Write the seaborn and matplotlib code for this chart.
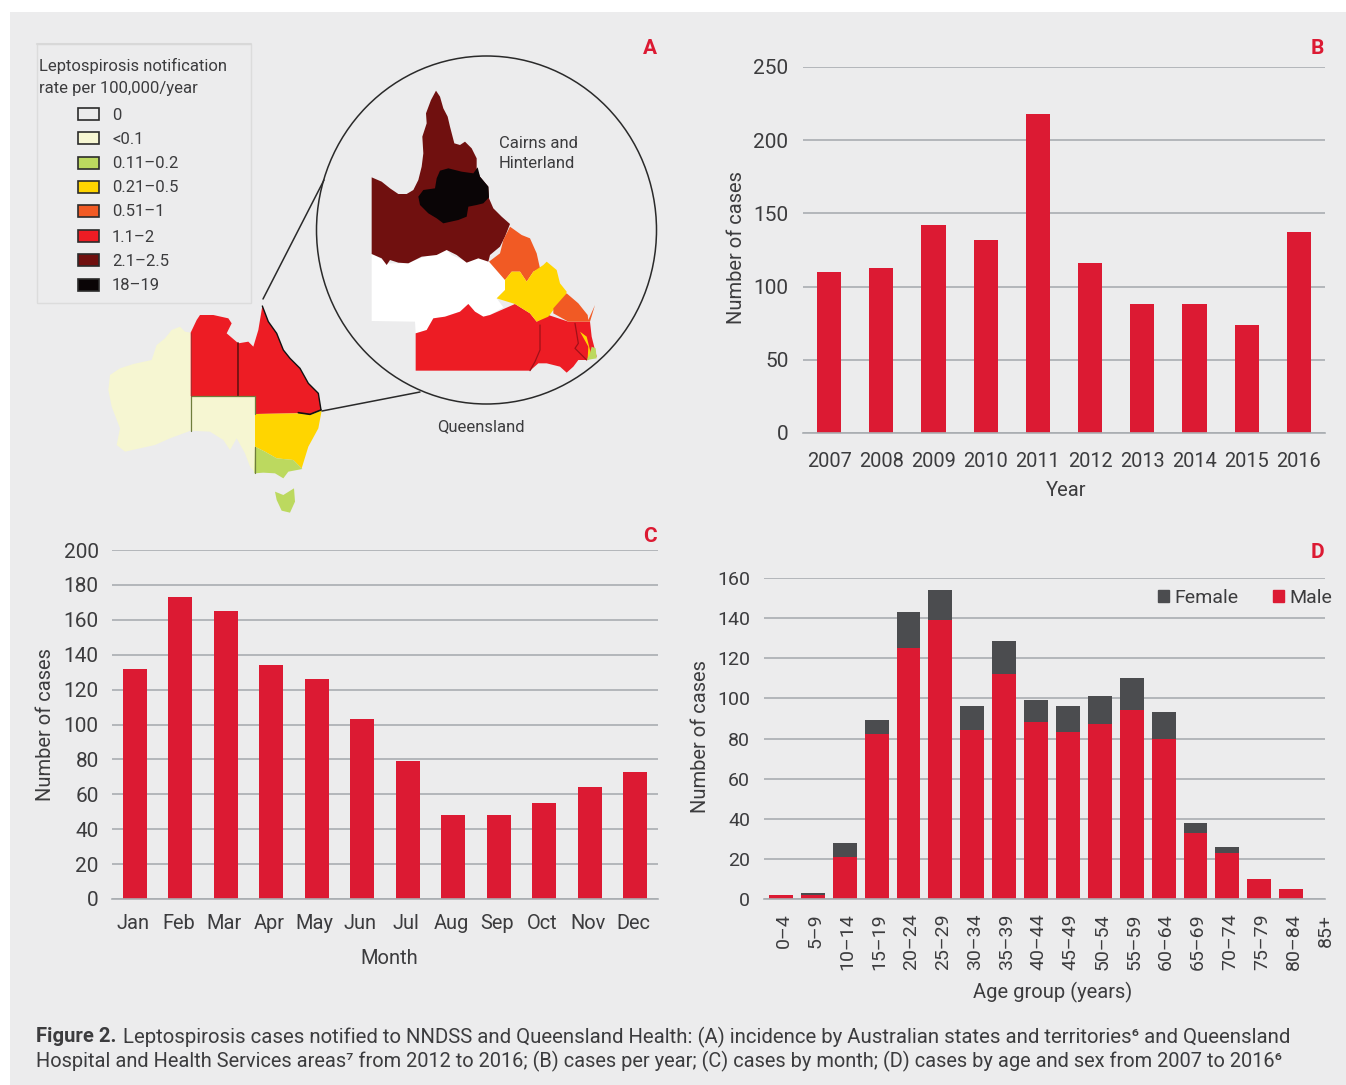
import matplotlib
matplotlib.use("Agg")
import matplotlib.pyplot as plt
from matplotlib.patches import Polygon, Ellipse, Rectangle, Patch
from matplotlib.transforms import ScaledTranslation
import seaborn as sns

# ---------- data ----------
years = ["2007", "2008", "2009", "2010", "2011", "2012", "2013", "2014", "2015", "2016"]
cases_per_year = [110, 113, 142, 132, 218, 116, 88, 88, 74, 137]

months = ["Jan", "Feb", "Mar", "Apr", "May", "Jun", "Jul", "Aug", "Sep", "Oct", "Nov", "Dec"]
cases_per_month = [132, 173, 165, 134, 126, 103, 79, 48, 48, 55, 64, 73]

age_groups = ["0–4", "5–9", "10–14", "15–19", "20–24", "25–29", "30–34", "35–39", "40–44",
              "45–49", "50–54", "55–59", "60–64", "65–69", "70–74", "75–79", "80–84", "85+"]
male_cases = [2, 2, 21, 82, 125, 139, 84, 112, 88, 83, 87, 94, 80, 33, 23, 10, 5, 0]
female_cases = [0, 1, 7, 7, 18, 15, 12, 16.5, 11, 13, 14, 16, 13, 5, 3, 0, 0, 0]

legend_labels = ["0", "<0.1", "0.11–0.2", "0.21–0.5", "0.51–1", "1.1–2", "2.1–2.5", "18–19"]
legend_colours = ["#ececec", "#f6f6d2", "#bcd95f", "#ffd500", "#f15a24", "#ed1c24", "#70100f", "#0a0506"]

# Map outlines
WA = [(272,98),(255,95),(240,80),(215,90),(195,115),(170,135),(155,180),(100,192),(60,205),(30,225),(25,270),
      (35,320),(60,385),(50,435),(75,455),(120,445),(165,435),(210,415),(272,392)]
NT = [(272,98),(290,60),(300,45),(340,45),(385,55),(395,70),(380,100),(415,130),(415,288),(272,288)]
QLD = [(415,130),(445,125),(460,140),(475,90),(487,18),(505,65),(530,100),(550,150),(570,175),(600,205),(625,250),
       (655,280),(663,330),(630,345),(595,340),(465,342),(465,288),(415,288)]
SA = [(272,288),(465,288),(465,518),(450,500),(435,460),(410,415),(390,450),(370,420),(330,395),(272,392)]
NSW = [(465,342),(595,340),(630,345),(665,332),(655,385),(625,440),(605,505),(580,480),(530,475),(495,455),(465,440)]
VIC = [(465,440),(495,455),(530,475),(580,480),(607,507),(565,515),(550,535),(525,520),(490,518),(463,520)]
TAS = [(525,575),(550,585),(582,565),(585,605),(570,638),(545,632),(530,600)]
QLD_COAST = [(487,18),(505,65),(530,100),(550,150),(570,175),(600,205),(625,250),(655,280),(663,330)]
QLD_SOUTH = [(595,338),(630,343),(663,330)]

Q_DARK = [(20,292),(50,305),(75,325),(100,342),(125,342),(145,330),(160,300),(170,260),(175,220),(172,170),(185,130),
          (183,100),(198,60),(213,32),(225,50),(235,85),(248,110),(255,140),(268,190),(285,195),(300,185),(320,205),
          (335,235),(335,265),(345,290),(370,320),(372,355),(385,385),(410,410),(435,432),(420,470),(405,500),(375,525),
          (370,545),(340,535),(305,548),(275,525),(245,510),(215,525),(170,530),(130,550),(100,548),(75,540),(65,555),
          (50,535),(20,522)]
Q_BLACK = [(225,272),(250,265),(290,275),(325,280),(338,262),(345,290),(370,320),(372,352),(355,370),(335,375),(310,380),
           (305,410),(280,420),(235,430),(215,415),(190,400),(165,375),(160,350),(175,330),(210,325),(215,295)]
Q_ORANGE_N = [(435,20),(470,45),(495,55),(515,100),(525,145),(505,155),(485,185),(465,155),(440,155),(420,180),(372,125),
              (405,100),(415,60)]
Q_WHITE = [(20,100),(45,115),(70,130),(125,130),(165,115),(210,100),(245,90),(260,105),(305,125),(345,105),(372,125),
           (420,180),(420,210),(395,235),(415,262),(375,285),(355,290),(330,275),(310,252),(285,275),(240,290),(205,295),
           (185,330),(152,340),(150,305),(20,303)]
Q_YELLOW = [(420,180),(440,155),(465,155),(485,185),(505,155),(535,135),(545,125),(575,150),(585,190),(605,215),(600,240),
            (565,270),(550,290),(515,305),(495,280),(450,252),(395,235),(420,210)]
Q_ORANGE_S = [(605,220),(640,250),(668,285),(670,300),(690,255),(675,305),(610,305),(565,280),(565,265)]
Q_RED = [(152,340),(185,330),(205,295),(240,290),(285,275),(310,252),(330,275),(355,290),(375,285),(450,252),(495,280),
         (515,305),(550,285),(610,305),(675,305),(680,350),(695,410),(665,420),(640,420),(625,440),(605,458),(585,440),
         (545,430),(520,430),(495,452),(152,452)]
Q_SE_YELLOW = [(645,335),(665,350),(680,410),(668,415),(670,380)]
Q_SE_GREEN = [(680,380),(692,385),(695,415),(665,420),(675,400)]
Q_LINE_1 = [(525,315),(525,390),(510,425),(495,452)]
Q_LINE_2 = [(630,310),(640,370),(630,385),(665,420)]

# ---------- style ----------
W, H = 1346, 1085
RED = "#dc1a33"
DARK = "#4b4c4f"
GRID = "#a9adb1"
TEXT = "#3c3c3e"
BG = "#ececed"

sns.set_theme(style="white")
plt.rcParams["font.family"] = ["Roboto", "DejaVu Sans"]
plt.rcParams["text.color"] = TEXT
plt.rcParams["axes.labelcolor"] = TEXT

fig = plt.figure(figsize=(W / 100, H / 100), dpi=100, facecolor="white")
fig.patches.append(Rectangle((10 / W, 0), (W - 10) / W, (H - 12) / H, transform=fig.transFigure,
                             facecolor=BG, edgecolor="none", zorder=-10))

ov = fig.add_axes([0, 0, 1, 1], zorder=5)
ov.set_xlim(0, W)
ov.set_ylim(H, 0)
ov.axis("off")
ov.patch.set_alpha(0)


def make_axes(left, right, top, bottom, size=15):
    ax = fig.add_axes([left / W, 1 - bottom / H, (right - left) / W, (bottom - top) / H])
    ax.patch.set_alpha(0)
    ax.set_axisbelow(True)
    ax.grid(axis="y", color=GRID, lw=1.2)
    ax.grid(axis="x", visible=False)
    for s in ["top", "left", "right"]:
        ax.spines[s].set_visible(False)
    ax.spines["bottom"].set_color(GRID)
    ax.spines["bottom"].set_linewidth(1.2)
    ax.tick_params(axis="both", length=0, labelsize=size, labelcolor=TEXT)
    return ax


def finish(ax, xlabel, xpos, ylabel, ypos):
    ax.set_xlabel(xlabel, fontsize=14.5, va="center")
    ax.set_ylabel(ylabel, fontsize=14.5, va="center")
    ax.xaxis.set_label_coords(*xpos, transform=ov.transData)
    ax.yaxis.set_label_coords(*ypos, transform=ov.transData)


flat = dict(saturation=1, edgecolor="none", linewidth=0)

# ---------- panel B ----------
axB = make_axes(803, 1325, 67, 433)
sns.barplot(x=years, y=cases_per_year, color=RED, width=0.46, ax=axB, **flat)
axB.set_xlim(-0.5, 9.5)
axB.set_ylim(0, 250)
axB.set_yticks(range(0, 251, 50))
axB.tick_params(axis="x", pad=14, labelsize=14.4)
axB.tick_params(axis="y", pad=10.5)
finish(axB, "Year", (1066, 491), "Number of cases", (736, 248))

# ---------- panel C ----------
axC = make_axes(112, 658, 550, 899)
sns.barplot(x=months, y=cases_per_month, color=RED, width=0.53, ax=axC, **flat)
axC.set_xlim(-0.5, 11.5)
axC.set_ylim(0, 200)
axC.set_yticks(range(0, 201, 20))
axC.tick_params(axis="x", pad=11, labelsize=14.4)
axC.tick_params(axis="y", pad=9.5)
shift_c = ScaledTranslation(-2 / 100, 0, fig.dpi_scale_trans)
for lab in axC.get_xticklabels():
    lab.set_transform(lab.get_transform() + shift_c)
finish(axC, "Month", (389, 959), "Number of cases", (46, 725))

# ---------- panel D ----------
axD = make_axes(764, 1325, 578, 899, size=14)
sns.barplot(x=age_groups, y=male_cases, color=RED, width=0.75, ax=axD, **flat)
sns.barplot(x=age_groups, y=female_cases, bottom=male_cases, color=DARK, width=0.75, ax=axD, **flat)
axD.set_xlim(-0.53, 17.06)
axD.set_ylim(0, 160)
axD.set_yticks(range(0, 161, 20))
axD.tick_params(axis="x", pad=10.5, labelrotation=90)
axD.tick_params(axis="y", pad=10)
shift = ScaledTranslation(2.5 / 100, 0, fig.dpi_scale_trans)
for lab in axD.get_xticklabels():
    lab.set_clip_on(False)
    lab.set_transform(lab.get_transform() + shift)
finish(axD, "Age group (years)", (1053, 992), "Number of cases", (700, 737))
axD.legend(handles=[Patch(color=DARK), Patch(color=RED)], labels=["Female", "Male"], ncol=2, frameon=False,
           loc="center left", bbox_to_anchor=(1158, 598), bbox_transform=ov.transData,
           borderpad=0, borderaxespad=0, handlelength=0.55, handleheight=0.55, handletextpad=0.3,
           columnspacing=1.78, fontsize=14)

# ---------- panel A: map ----------
def z_au(pts):
    return [(100 + x / 3, 300 + y / 3) for x, y in pts]


def z_n(pts):
    return [(365 + x / 3, 80 + y / 3) for x, y in pts]


def z_s(pts):
    return [(365 + x / 3, 220 + y / 3) for x, y in pts]


for pts, col in [(WA, legend_colours[1]), (SA, legend_colours[1]), (NT, legend_colours[5]), (QLD, legend_colours[5]),
                 (NSW, legend_colours[3]), (VIC, legend_colours[2]), (TAS, legend_colours[2])]:
    ov.add_patch(Polygon(z_au(pts), closed=True, facecolor=col, edgecolor="none"))
for a, b, col, lw in [((415, 130), (415, 288), "#70100f", 1.3), ((272, 288), (465, 288), "#6f7d3c", 0.9),
                      ((465, 288), (465, 342), "#6f7d3c", 0.9), ((272, 288), (272, 392), "#6f7d3c", 0.9),
                      ((272, 98), (272, 288), "#a03030", 0.6), ((465, 440), (465, 518), "#6f7d3c", 0.9)]:
    ov.plot(*zip(*z_au([a, b])), color=col, lw=lw)
ov.plot(*zip(*z_au(QLD_COAST)), color="#111111", lw=1.0)
ov.plot(*zip(*z_au(QLD_SOUTH)), color="#111111", lw=1.2)

ov.add_patch(Polygon(z_s(Q_WHITE), closed=True, facecolor="white", edgecolor="none"))
ov.add_patch(Polygon(z_n(Q_DARK), closed=True, facecolor=legend_colours[6], edgecolor="none"))
ov.add_patch(Polygon(z_n(Q_BLACK), closed=True, facecolor=legend_colours[7], edgecolor="none"))
for pts, col in [(Q_ORANGE_N, legend_colours[4]), (Q_RED, legend_colours[5]), (Q_YELLOW, legend_colours[3]),
                 (Q_ORANGE_S, legend_colours[4]), (Q_SE_YELLOW, legend_colours[3]), (Q_SE_GREEN, legend_colours[2])]:
    ov.add_patch(Polygon(z_s(pts), closed=True, facecolor=col, edgecolor="none"))
ov.plot(*zip(*z_s(Q_LINE_1)), color="#a01018", lw=0.9)
ov.plot(*zip(*z_s(Q_LINE_2)), color="#a01018", lw=0.9)

ov.add_patch(Ellipse((486.5, 230), 340, 348, facecolor="none", edgecolor="#2a2a2a", lw=1.1))
ov.plot([263, 324], [299, 180], color="#2a2a2a", lw=1.1)
ov.plot([322, 420], [411, 392], color="#2a2a2a", lw=1.1)

ov.text(499, 143, "Cairns and", fontsize=12, va="center")
ov.text(499, 164, "Hinterland", fontsize=12, va="center")
ov.text(437, 427, "Queensland", fontsize=12, va="center")

# legend of the map
ov.add_patch(Rectangle((37, 44), 214, 259, facecolor="none", edgecolor="#dcdcdc", lw=1.0))
ov.plot([37, 251], [44, 44], color="#d8d8d8", lw=1.5)
ov.text(39, 66, "Leptospirosis notification", fontsize=12, va="center")
ov.text(39, 88, "rate per 100,000/year", fontsize=12, va="center")
row_y = [114, 138, 163, 187, 211, 236, 260, 285]
for y, lab, col in zip(row_y, legend_labels, legend_colours):
    ov.add_patch(Rectangle((78, y - 6), 21, 12, facecolor=col, edgecolor="#2b2b2b", lw=1.2))
    ov.text(112, y + 1, lab, fontsize=12, va="center")

# panel letters
for x, y, s in [(650, 47, "A"), (1317, 47, "B"), (650, 536, "C"), (1317, 551, "D")]:
    ov.text(x, y + 1, s, color=RED, fontsize=15, fontweight="bold", ha="center", va="center")

# caption
ov.text(36, 1037, "Figure 2.", fontsize=14.6, fontweight="bold", va="center")
ov.text(123, 1037, "Leptospirosis cases notified to NNDSS and Queensland Health: (A) incidence by Australian states "
        "and territories⁶ and Queensland", fontsize=14.66, va="center")
ov.text(36, 1061, "Hospital and Health Services areas⁷ from 2012 to 2016; (B) cases per year; (C) cases by month; "
        "(D) cases by age and sex from 2007 to 2016⁶", fontsize=14.39, va="center")

fig.savefig("out.png", dpi=100, facecolor="white")
